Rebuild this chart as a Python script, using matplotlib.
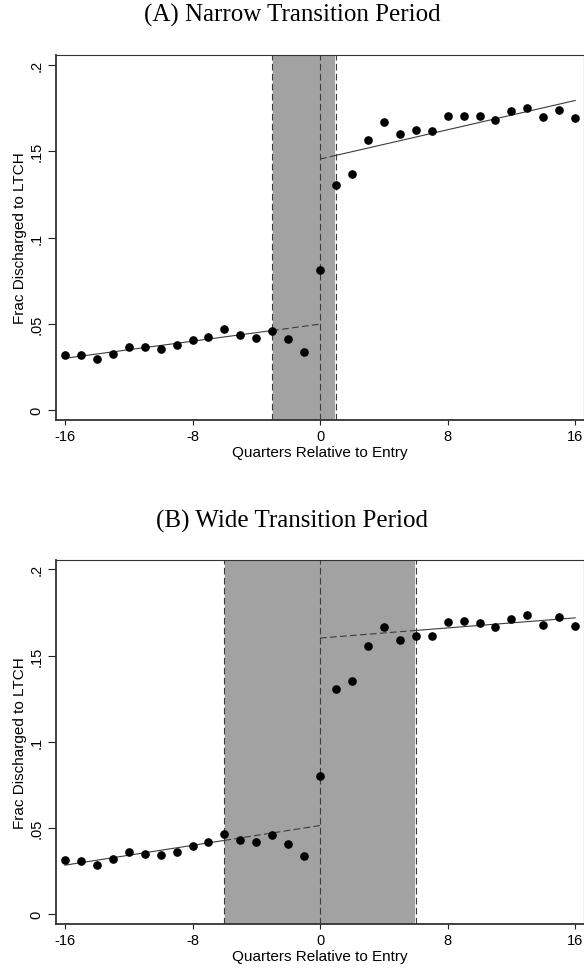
import numpy as np
import matplotlib
matplotlib.use("Agg")
import matplotlib.pyplot as plt

plt.rcParams['font.family'] = ['Liberation Sans', 'DejaVu Sans']

quarters = np.arange(-16, 17)

# panel A: narrow transition (-3 to 1)
frac_a = [0.0319, 0.0319, 0.0295, 0.0328, 0.0367, 0.0367, 0.0353, 0.0377,
          0.0406, 0.0425, 0.0473, 0.0433, 0.0421, 0.0458, 0.0410, 0.0340,
          0.0811, 0.1305, 0.1369, 0.1562, 0.1670, 0.1597, 0.1622, 0.1614,
          0.1703, 0.1705, 0.1701, 0.1682, 0.1732, 0.1752, 0.1698, 0.1740,
          0.1694]
# panel B: wide transition (-6 to 6)
frac_b = [0.0317, 0.0311, 0.0286, 0.0318, 0.0359, 0.0351, 0.0343, 0.0359,
          0.0394, 0.0421, 0.0467, 0.0432, 0.0421, 0.0461, 0.0407, 0.0340,
          0.0804, 0.1304, 0.1354, 0.1557, 0.1663, 0.1589, 0.1614, 0.1611,
          0.1695, 0.1703, 0.1688, 0.1666, 0.1715, 0.1734, 0.1680, 0.1726,
          0.1674]

windows = [(-3, 1), (-6, 6)]
titles = ["(A) Narrow Transition Period", "(B) Wide Transition Period"]
yticks = [0, 0.05, 0.1, 0.15, 0.2]
ytick_labels = ["0", ".05", ".1", ".15", ".2"]
xticks = [-16, -8, 0, 8, 16]

line_col = "#3c3c3c"
dash = (0, (6, 3))

fig = plt.figure(figsize=(5.84, 9.70), dpi=100)
axes_pos = [[56 / 584, 1 - 421 / 970, 528 / 584, 365 / 970],
            [56 / 584, 1 - 925 / 970, 528 / 584, 364.3 / 970]]
title_y = [1 - 15 / 970, 1 - 521 / 970]

for pos, ty, frac, (lo, hi), title in zip(axes_pos, title_y, [frac_a, frac_b], windows, titles):
    ax = fig.add_axes(pos)
    y = np.array(frac)

    ax.axvspan(lo, hi, color="#a2a2a2", lw=0, zorder=0)
    for v in (lo, hi):
        ax.axvline(v, color="white", lw=1.2, zorder=1)
        ax.axvline(v, color=line_col, lw=0.8, ls=dash, zorder=2)
    ax.axvline(0, color=line_col, lw=0.8, ls=dash, zorder=2)

    # linear fits outside the transition window
    pre = quarters <= lo
    post = quarters >= hi
    b0, a0 = np.polyfit(quarters[pre], y[pre], 1)
    b1, a1 = np.polyfit(quarters[post], y[post], 1)
    ax.plot([-16, lo], [a0 - 16 * b0, a0 + lo * b0], color=line_col, lw=0.8, zorder=3)
    ax.plot([lo, 0], [a0 + lo * b0, a0], color=line_col, lw=0.8, ls=dash, zorder=3)
    ax.plot([0, hi], [a1, a1 + hi * b1], color=line_col, lw=0.8, ls=dash, zorder=3)
    ax.plot([hi, 16], [a1 + hi * b1, a1 + 16 * b1], color=line_col, lw=0.8, zorder=3)

    ax.plot(quarters, y, "o", color="black", ms=5.2, zorder=4)

    ax.set_xlim(-16.56, 16.55)
    ax.set_ylim(-0.0056, 0.2056)
    ax.set_xticks(xticks)
    ax.set_xticklabels([str(t) for t in xticks])
    ax.set_yticks(yticks)
    ax.set_yticklabels(ytick_labels, rotation=90, va="center")
    ax.tick_params(axis="x", length=3.6, width=0.8, labelsize=10.5, pad=3, color="#222222")
    ax.tick_params(axis="y", length=5.5, width=0.8, labelsize=10.5, pad=3.5, color="#222222")
    for s in ax.spines.values():
        s.set_linewidth(0.8)
        s.set_color("#333333")
    ax.spines["bottom"].set_linewidth(1.3)
    ax.spines["left"].set_linewidth(1.3)
    ax.set_xlabel("Quarters Relative to Entry", fontsize=11, labelpad=1)
    ax.set_ylabel("Frac Discharged to LTCH", fontsize=11, labelpad=2)

    fig.text(0.5, ty, title, ha="center", va="center", fontsize=18,
             family=["Liberation Serif", "DejaVu Serif"])

fig.savefig("out.png", dpi=100)
